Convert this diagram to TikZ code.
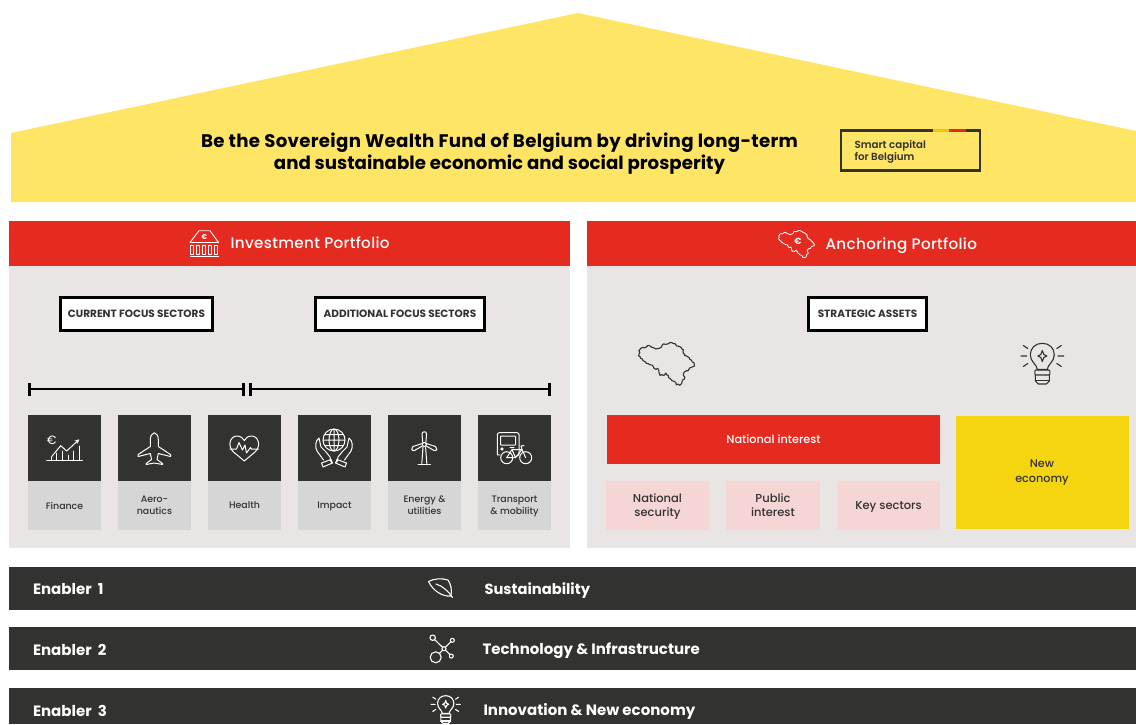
\documentclass[tikz,border=0pt]{standalone}
\usepackage{fontspec}
\setmainfont{Poppins}
\newfontfamily\medfont{Poppins Medium}
\newfontfamily\semifont{Poppins SemiBold}
\usetikzlibrary{arrows.meta}
\definecolor{roofY}{HTML}{FFE566}
\definecolor{redH}{HTML}{E52A20}
\definecolor{panelG}{HTML}{E9E5E4}
\definecolor{darkB}{HTML}{323230}
\definecolor{tileG}{HTML}{D6D6D6}
\definecolor{pinkB}{HTML}{F6D5D5}
\definecolor{newY}{HTML}{F5D410}
\definecolor{midY}{HTML}{EFC50A}
\tikzset{
  box/.style={draw=none,inner sep=0pt,outer sep=0pt,anchor=north west},
  lbl/.style={inner sep=0pt,outer sep=0pt,align=center,text depth=0pt},
  focusbox/.style={draw=black,line width=2.2pt,fill=white,inner sep=0pt,text=darkB,font=\bfseries\fontsize{10.5}{12}\selectfont},
  tilelabel/.style={lbl,text=darkB,font=\medfont\fontsize{9.4}{12}\selectfont},
  pinklabel/.style={lbl,text=darkB,font=\medfont\fontsize{11.5}{14}\selectfont},
  barlabel/.style={lbl,text=white,font=\bfseries\fontsize{15}{16}\selectfont},
  headlabel/.style={lbl,anchor=west,text=white,font=\medfont\fontsize{15.2}{17}\selectfont\addfontfeature{LetterSpace=2.2}},
  ico/.style={line width=1.1pt,line join=round,line cap=round},
}
% ---- icons, drawn about a local origin, in reference pixels
\newcommand{\iconBelgium}[1]{%
  \draw[line width=#1,line join=round] (-27,-11) -- (-25.5,-13) -- (-24,-14) -- (-22.5,-13.5) -- (-21,-14) -- (-19.5,-15.5) -- (-18,-15.5) -- (-16,-14) -- (-14,-13.5) -- (-12.5,-12.5) -- (-11,-13) -- (-9.5,-13.2) -- (-8,-14) -- (-7,-16) -- (-6,-17) -- (-4,-16.5) -- (-2,-17) -- (-0.5,-18) -- (1,-18) -- (2.5,-17.2) -- (4,-17) -- (5,-15.5) -- (6,-15) -- (7.5,-14.8) -- (9,-14) -- (9.8,-12.5) -- (11,-12) -- (10.7,-10.5) -- (11,-9) -- (12.5,-7.5) -- (12,-7) -- (14,-6.5) -- (16,-5) -- (16.5,-3.8) -- (18,-3) -- (18.5,-1.5) -- (20,-1) -- (20.5,2) -- (18,3) -- (16.5,3.6) -- (15,6) -- (13.5,6) -- (12,7) -- (11,8.5) -- (11,10) -- (12.2,11.5) -- (12,13) -- (10.5,13.8) -- (10,15) -- (9.5,17) -- (8,18.5) -- (6.5,17.5) -- (5,18) -- (4.5,16) -- (3,15) -- (1.2,14.5) -- (0,13) -- (-1.5,12) -- (-2,10) -- (-3.2,9.5) -- (-4,8) -- (-5,9.5) -- (-6,10) -- (-7.5,9.3) -- (-9,10) -- (-9.5,8.5) -- (-10,7) -- (-10,5.5) -- (-11,4) -- (-12.5,4.8) -- (-14,4) -- (-15,2) -- (-16,1) -- (-17.5,1) -- (-19,0) -- (-20.5,-0.3) -- (-22,-2) -- (-23.5,-2.5) -- (-24,-4) -- (-25.5,-4.5) -- (-26,-6) -- (-27.2,-6.5) -- (-27,-8) -- (-26.2,-9.5) -- cycle;}
\newcommand{\iconBulb}{%
  \draw[ico] (-5,13.5) .. controls (-5,9) and (-12,5.5) .. (-12,-1) .. controls (-12,-8) and (-7,-12.7) .. (0,-12.7) .. controls (7,-12.7) and (12,-8) .. (12,-1) .. controls (12,5.5) and (5,9) .. (5,13.5) -- cycle;
  \draw[ico] (0,-5.5) -- (1.5,-1.5) -- (4.5,0) -- (1.5,1.5) -- (0,5.5) -- (-1.5,1.5) -- (-4.5,0) -- (-1.5,-1.5) -- cycle;
  \draw[ico,rounded corners=1pt] (-7.5,14) rectangle (7.5,19);
  \draw[ico] (-7,19) -- (-7,25) -- (-4,28) -- (4,28) -- (7,25) -- (7,19);
  \draw[ico] (-7,24.5) -- (7,24.5);
  \draw[ico] (-14.5,-7.5) -- (-19,-10.5) (14.5,-7.5) -- (19,-10.5) (-15.5,0) -- (-21.5,0) (15.5,0) -- (21.5,0) (-14.5,7.5) -- (-19,10.5) (14.5,7.5) -- (19,10.5);}
\begin{document}
\begin{tikzpicture}[x=1pt,y=-1pt]
\path[use as bounding box,fill=white] (0,0) rectangle (1136,724);
% roof
\path[fill=roofY] (11,133) -- (578,13) -- (1136,131) -- (1136,202) -- (11,202) -- cycle;
\node[lbl,text=black,font=\bfseries\fontsize{18.2}{22}\selectfont] (mission) at (499.5,151) {{\addfontfeature{LetterSpace=1.6}Be the Sovereign Wealth Fund of Belgium by driving long-term}\\and sustainable economic and social prosperity};
% smart capital box
\node[box,draw=darkB,line width=2.6pt,minimum width=139pt,minimum height=40pt] (smart) at (841,130.5) {};
\draw[midY,line width=2.6pt] (933,130.5) -- (949,130.5);
\draw[redH,line width=2.6pt] (949,130.5) -- (966,130.5);
\node[lbl,anchor=west,align=left,text=darkB,font=\semifont\fontsize{10.3}{12}\selectfont] (smarttext) at (854.5,150.5) {Smart capital\\for Belgium};
% panels
\node[box,fill=panelG,minimum width=561pt,minimum height=327pt] (leftpanel) at (9,221) {};
\node[box,fill=panelG,minimum width=549pt,minimum height=327pt] (rightpanel) at (587,221) {};
\node[box,fill=redH,minimum width=561pt,minimum height=45pt] (lefthead) at (9,221) {};
\node[box,fill=redH,minimum width=549pt,minimum height=45pt] (righthead) at (587,221) {};
\node[headlabel] (invtext) at (230.5,243) {Investment Portfolio};
\node[headlabel] (anctext) at (825.5,244) {Anchoring Portfolio};
% bank icon
\begin{scope}[white,line width=0.9pt,line join=round]
  \draw (190,242.5) -- (199,230.7) -- (210,230.7) -- (218.5,242.5) -- cycle;
  \foreach \cx in {191.5,197.5,203.5,209.5,215.5} \draw (\cx-1.5,245) rectangle (\cx+1.5,254);
  \draw (190,256.7) -- (218.5,256.7);
  \node[lbl,text=white,font=\bfseries\fontsize{7}{7}\selectfont] (bankeuro) at (204.5,237) {€};
\end{scope}
% Belgium + euro in header
\begin{scope}[shift={(799,244)},scale=0.75,white]\iconBelgium{0.8pt}\end{scope}
\node[lbl,text=white,font=\bfseries\fontsize{9}{9}\selectfont] (anceuro) at (798,241) {€};
% focus boxes
\node[focusbox,minimum width=152pt,minimum height=33pt] (current) at (136.5,314) {\raisebox{-0.8pt}{CURRENT FOCUS SECTORS}};
\node[focusbox,minimum width=169pt,minimum height=33pt] (additional) at (400,314) {\raisebox{-0.8pt}{ADDITIONAL FOCUS SECTORS}};
\node[focusbox,minimum width=118pt,minimum height=33pt] (strategic) at (867.5,314) {\raisebox{-0.8pt}{STRATEGIC ASSETS}};
% range bars
\coordinate (r1a) at (28.3,389); \coordinate (r1b) at (244.7,389);
\coordinate (r2a) at (249,389); \coordinate (r2b) at (551,389);
\draw[black,line width=2pt,{Bar[width=13pt,line width=2.6pt]}-{Bar[width=13pt,line width=2.6pt]}] (r1a) -- (r1b);
\draw[black,line width=2pt,{Bar[width=13pt,line width=2.6pt]}-{Bar[width=13pt,line width=2.6pt]}] (r2a) -- (r2b);
% tiles
\foreach \tx/\nm in {28/a,118/b,208/c,298/d,388/e,478/f}{
  \node[box,fill=darkB,minimum width=73pt,minimum height=66pt] (dark\nm) at (\tx,415) {};
  \node[box,fill=tileG,minimum width=73pt,minimum height=49pt] (light\nm) at (\tx,481) {};
}
\node[tilelabel] (lf1) at ([yshift=-0.7pt]lighta.center) {Finance};
\node[tilelabel] (lf2) at (lightb.center) {Aero-\\nautics};
\node[tilelabel] (lf3) at (lightc.center) {Health};
\node[tilelabel] (lf4) at (lightd.center) {Impact};
\node[tilelabel] (lf5) at (lighte.center) {Energy \&\\utilities};
\node[tilelabel] (lf6) at (lightf.center) {Transport\\\& mobility};
% finance icon
\begin{scope}[white,ico,line width=1pt]
  \draw (46.7,460) -- (82.3,460);
  \draw (51.7,460) -- (51.7,457) (56.7,460) -- (56.7,453) (62.3,460) -- (62.3,451) (68.3,460) -- (68.3,455) (73.3,460) -- (73.3,451) (79,460) -- (79,446);
  \draw[-{Stealth[length=4.5pt,width=4.5pt]}] (51.7,456.5) -- (60.7,445.7) -- (66.7,451) -- (79.3,439.3);
  \node[lbl,text=white,font=\fontsize{12}{12}\selectfont] (fineuro) at (51.7,440.7) {€};
% plane
  \draw (154.3,432.7) .. controls (157,433.5) and (158.3,436) .. (158.3,440) -- (158.3,446.5) -- (170.5,454.5) -- (170.5,456.5) -- (158.3,453.5) -- (157,459.5) -- (162.5,463.5) -- (162.5,464.5) -- (154.3,463) -- (146.2,464.5) -- (146.2,463.5) -- (151.6,459.5) -- (150.3,453.5) -- (138.2,456.5) -- (138.2,454.5) -- (150.3,446.5) -- (150.3,440) .. controls (150.3,436) and (151.6,433.5) .. (154.3,432.7) -- cycle;
% heart
  \draw (244.3,461) -- (233.5,452) .. controls (227,446) and (230,436) .. (237,436) .. controls (240.5,436) and (243,438) .. (244.3,440.5) .. controls (245.6,438) and (248,436) .. (251.5,436) .. controls (258.5,436) and (261.5,446) .. (255,452) -- cycle;
  \draw (230,449) -- (236.5,449) -- (239,442.5) -- (242.5,450) -- (245,445) -- (246.5,453) -- (250.5,447.5) -- (251.5,449) -- (258.5,449);
% globe + hands
  \draw (334,440) circle (11);
  \draw (334,440) ellipse (5 and 11) (334,429) -- (334,451) (323,440) -- (345,440) (324.7,434.5) -- (343.3,434.5) (324.7,445.5) -- (343.3,445.5);
  \draw (319,438) .. controls (315,441) and (315,447) .. (317,451) -- (323.5,460) (319,438) -- (321,447) -- (326,452) -- (330,457) -- (331,462) (321.5,463) -- (331,459.5) -- (332.5,463) -- (323,467) -- cycle;
  \draw (349,438) .. controls (353,441) and (353,447) .. (351,451) -- (344.5,460) (349,438) -- (347,447) -- (342,452) -- (338,457) -- (337,462) (346.5,463) -- (337,459.5) -- (335.5,463) -- (345,467) -- cycle;
% wind turbine
  \draw (424.3,444.5) circle (2);
  \draw (422.8,443) -- (422,434) .. controls (422,431) and (426.6,431) .. (426.6,434) -- (425.8,443);
  \draw (422.6,445.8) -- (414.5,450.5) .. controls (411,451.5) and (411,447.5) .. (413,446.5) -- (422.3,443.5);
  \draw (426,445.8) -- (434,450.5) .. controls (437.5,451.5) and (437.5,447.5) .. (435.5,446.5) -- (426.3,443.5);
  \draw (423,447) -- (421.8,463.5) (425.6,447) -- (426.8,463.5);
  \draw (418,464) -- (430.5,464);
% tram & bike
  \draw[rounded corners=2pt] (516,456) -- (519,456) -- (519,432.7) -- (497.3,432.7) -- (497.3,453) .. controls (497.3,454.5) and (498,455) .. (499.5,455);
  \draw[rounded corners=0.5pt] (500.5,436) rectangle (515.5,445);
  \draw (502,449) circle (1.2);
  \draw (506.7,457.7) circle (6) (525.7,457.7) circle (6);
  \draw (506.7,457.7) -- (512,449.5) -- (522,449.5) -- (525.7,457.7) (512,449.5) -- (515.5,457.7) -- (506.7,457.7) (515.5,457.7) -- (522,449.5) (522,449.5) -- (521,446) -- (524,445.5) (510,447.5) -- (514,447.5);
\end{scope}
% anchoring icons
\begin{scope}[shift={(670.5,363.7)},scale=1.17,darkB]\iconBelgium{1.1pt}\end{scope}
\begin{scope}[shift={(1042.3,356)},darkB]\iconBulb\end{scope}
% national interest
\node[box,fill=redH,minimum width=333pt,minimum height=49pt] (natint) at (607,415) {};
\node[lbl,text=white,font=\medfont\fontsize{11.3}{13}\selectfont] (natinttext) at (natint.center) {National interest};
\node[box,fill=pinkB,minimum width=103pt,minimum height=49pt] (p1) at (606,481) {};
\node[box,fill=pinkB,minimum width=94pt,minimum height=49pt] (p2) at (726,481) {};
\node[box,fill=pinkB,minimum width=103pt,minimum height=49pt] (p3) at (837,481) {};
\node[pinklabel] (p1t) at (p1.center) {National\\security};
\node[pinklabel] (p2t) at (p2.center) {Public\\interest};
\node[pinklabel] (p3t) at (p3.center) {Key sectors};
\node[box,fill=newY,minimum width=173pt,minimum height=113pt] (neweco) at (956,416) {};
\node[lbl,text=darkB,font=\medfont\fontsize{11.2}{15}\selectfont] (newecot) at (1042,471) {New\\economy};
% enablers
\node[box,fill=darkB,minimum width=1127pt,minimum height=43pt] (en1) at (9,567) {};
\node[box,fill=darkB,minimum width=1127pt,minimum height=43pt] (en2) at (9,627) {};
\node[box,fill=darkB,minimum width=1127pt,minimum height=36pt] (en3) at (9,688) {};
\node[barlabel,anchor=west] (e1) at (33,588.5) {Enabler\hspace{3pt} 1};
\node[barlabel,anchor=west] (e2) at (33,649.5) {Enabler\hspace{3pt} 2};
\node[barlabel,anchor=west] (e3) at (33,710.5) {Enabler\hspace{3pt} 3};
\node[barlabel,anchor=west] (t1) at (484.5,588.5) {\fontsize{14.7}{16}\selectfont Sustainability};
\node[barlabel,anchor=west] (t2) at (482.5,648.5) {Technology \& Infrastructure};
\node[barlabel,anchor=west] (t3) at (483.5,709.5) {Innovation \& New economy};
% leaf
\begin{scope}[white,ico]
  \draw (428.5,581.5) .. controls (434,578.5) and (442,578) .. (448,580) .. controls (451,584) and (452,590) .. (451,596) .. controls (443,597) and (433,591) .. (428.5,581.5) -- cycle;
  \draw (436,584) .. controls (443,586) and (449,592) .. (452.5,597.5);
% network
  \draw (444,648.7) circle (2) (432.7,637.7) circle (2.7) (452.3,640.3) circle (2) (451.3,656) circle (2) (435.7,657.3) circle (5.5);
  \draw (442.5,647.2) -- (434.6,639.6) (445.5,647.2) -- (450.8,641.8) (445.5,650.2) -- (449.8,654.5) (442.5,650.2) -- (439.5,653.5);
\end{scope}
\begin{scope}[shift={(445.7,704.3)},scale=0.68,white]\iconBulb\end{scope}
\end{tikzpicture}
\end{document}
